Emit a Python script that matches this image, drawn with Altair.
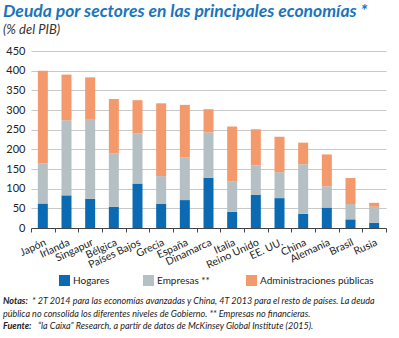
import altair as alt
import pandas as pd

paises = ["Japón", "Irlanda", "Singapur", "Bélgica", "Países Bajos", "Grecia", "España",
          "Dinamarca", "Italia", "Reino Unido", "EE. UU.", "China", "Alemania", "Brasil", "Rusia"]
hogares = [62, 83, 74, 54, 113, 62, 71, 128, 41, 84, 76, 36, 52, 22, 13]
empresas = [102, 191, 203, 136, 128, 70, 109, 115, 78, 75, 66, 126, 54, 39, 41]
administraciones = [236, 116, 106, 138, 84, 185, 133, 59, 139, 92, 90, 55, 81, 66, 10]
series = ["Hogares", "Empresas  **", "Administraciones públicas"]
colores = ["#0a6bb3", "#b5c0c4", "#f4996b"]
ticks_y = [0, 50, 100, 150, 200, 250, 300, 350, 400, 450]

titulo = "Deuda por sectores en las principales economías *"
subtitulo = "(% del PIB)"
notas1a = "Notas:"
notas1b = "* 2T 2014 para las economías avanzadas y China, 4T 2013 para el resto de países. La deuda"
notas2 = "pública no consolida los diferentes niveles de Gobierno.  ** Empresas no financieras."
notas3a = "Fuente:"
notas3b = "“la Caixa” Research, a partir de datos de McKinsey Global Institute (2015)."

rows = []
for i, p in enumerate(paises):
    for k, (s, vals) in enumerate(zip(series, [hogares, empresas, administraciones])):
        rows.append({"pais": p, "serie": s, "valor": vals[i], "orden": k})
df = pd.DataFrame(rows)

FONT = "Lato"

bars = alt.Chart(df).mark_bar(size=10).encode(
    x=alt.X("pais:N", sort=paises, title=None,
            scale=alt.Scale(paddingInner=0, paddingOuter=0),
            axis=alt.Axis(labelAngle=-25, labelAlign="right", labelBaseline="top",
                          labelFontSize=10.5, labelColor="#222", labelFont=FONT,
                          tickBand="extent", tickColor="#444", tickSize=4,
                          domainColor="#444", labelPadding=5, grid=False)),
    y=alt.Y("valor:Q", stack="zero", title=None,
            scale=alt.Scale(domain=[0, 450], nice=False),
            axis=alt.Axis(values=ticks_y, labelFontSize=11, labelColor="#222", labelFont=FONT,
                          domain=False, ticks=False, labelPadding=6,
                          gridColor="#c9c9c9", gridWidth=1)),
    color=alt.Color("serie:N", scale=alt.Scale(domain=series, range=colores),
                    legend=alt.Legend(title=None, orient="none", legendX=28, legendY=224,
                                      direction="horizontal", symbolType="square",
                                      symbolSize=121, symbolStrokeWidth=0,
                                      labelFontSize=10, labelFont=FONT, labelColor="#222",
                                      labelOffset=3, columnPadding=33, padding=0)),
    order=alt.Order("orden:Q"),
)

def txt(text, x, y, size, color="#222", weight="normal", style="italic"):
    return alt.Chart(pd.DataFrame({"t": [text]})).mark_text(
        align="left", baseline="alphabetic", fontSize=size, font=FONT,
        fontWeight=weight, fontStyle=style, color=color
    ).encode(text="t:N", x=alt.value(x), y=alt.value(y))

ox, oy = 31, 51
layers = [
    bars,
    txt(titulo, 3 - ox, 17 - oy, 17.5, color="#1b75bb", weight="bold"),
    txt(subtitulo, 3 - ox, 34 - oy, 13, color="#333"),
    txt(notas1a, 3 - ox, 304 - oy, 9, weight="bold"),
    txt(notas1b, 32 - ox, 304 - oy, 9),
    txt(notas2, 3 - ox, 317 - oy, 9),
    txt(notas3a, 3 - ox, 329 - oy, 9, weight="bold"),
    txt(notas3b, 38 - ox, 329 - oy, 9),
]

chart = alt.layer(*layers).properties(
    width=355, height=177,
    autosize=alt.AutoSizeParams(type="none"),
    padding={"left": 31, "top": 51, "right": 13, "bottom": 110},
    background="white",
).configure_view(stroke=None)

chart.save("out.html", embed_options={"renderer": "svg", "actions": False})
